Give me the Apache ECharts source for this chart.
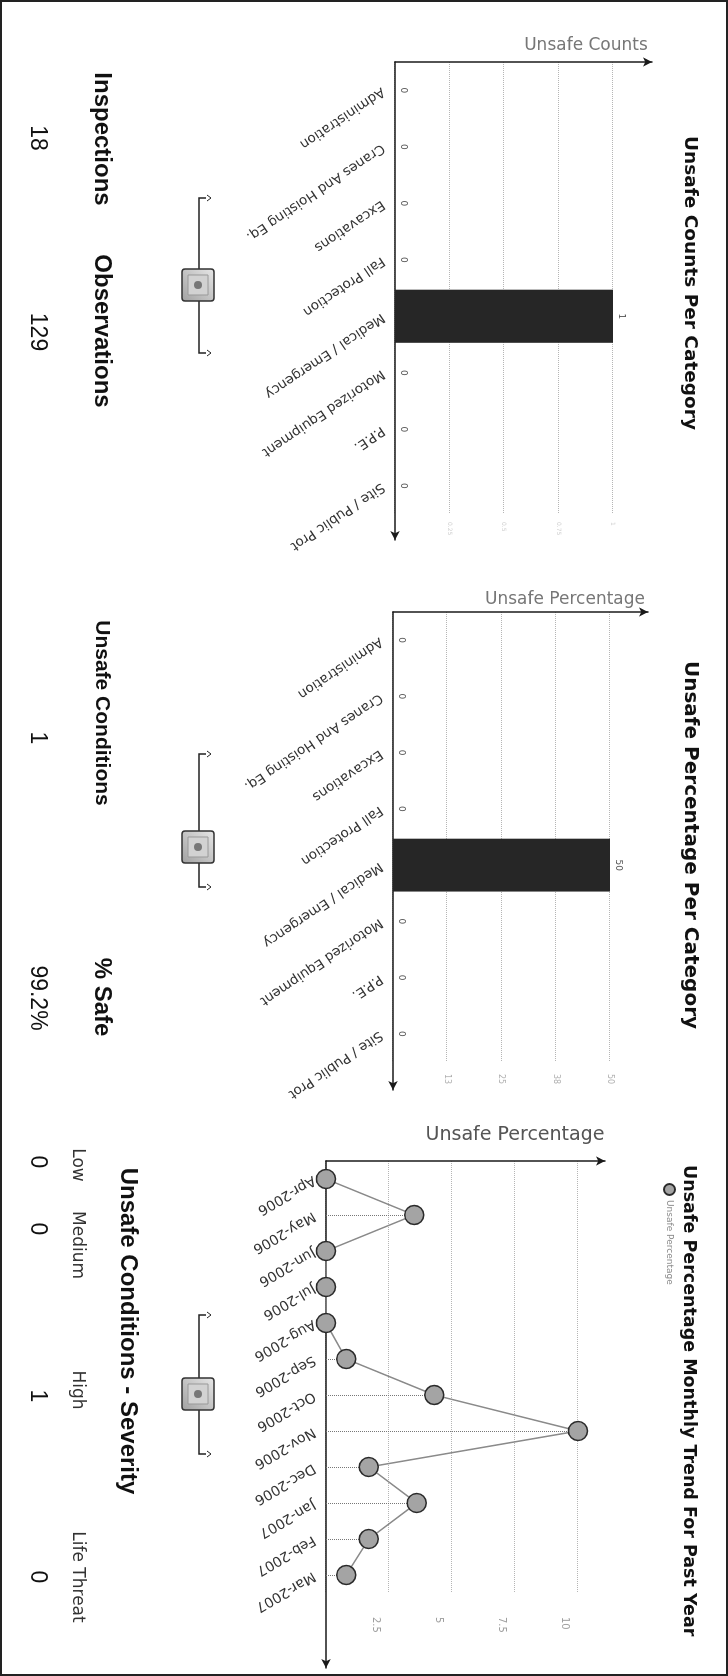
<!DOCTYPE html>
<html><head><meta charset="utf-8">
<script src="https://cdn.jsdelivr.net/npm/echarts@6/dist/echarts.min.js"></script>
<style>
html,body{margin:0;padding:0;width:728px;height:1676px;overflow:hidden;background:#fff;}
#wrap{position:absolute;left:0;top:0;width:1676px;height:728px;transform-origin:0 0;transform:translate(728px,0) rotate(90deg);}
#chart{width:1676px;height:728px;}
</style></head><body>
<div id="wrap"><div id="chart"></div></div>
<script>
// ---------- data ----------
const categories = ['Administration','Cranes And Hoisting Eq.','Excavations','Fall Protection','Medical / Emergency','Motorized Equipment','P.P.E.','Site / Public Prot'];
const unsafeCounts = [0,0,0,0,1,0,0,0];
const unsafePercent = [0,0,0,0,50,0,0,0];
const months = ['Apr-2006','May-2006','Jun-2006','Jul-2006','Aug-2006','Sep-2006','Oct-2006','Nov-2006','Dec-2006','Jan-2007','Feb-2007','Mar-2007'];
const monthlyUnsafePercent = [0,3.5,0,0,0,0.8,4.3,10,1.7,3.6,1.7,0.8];
const titles = ['Unsafe Counts Per Category','Unsafe Percentage Per Category','Unsafe Percentage Monthly Trend For Past Year'];
const axisNames = ['Unsafe Counts','Unsafe Percentage','Unsafe Percentage'];
const legendName = 'Unsafe Percentage';
const kpiLabels = ['Inspections','Observations','Unsafe Conditions','% Safe'];
const kpiValues = ['18','129','1','99.2%'];
const severityTitle = 'Unsafe Conditions - Severity';
const severityLabels = ['Low','Medium','High','Life Threat'];
const severityValues = ['0','0','1','0'];

// ---------- layout (original landscape frame 1676 x 728, rotated by CSS) ----------
const FONT = 'DejaVu Sans';
const AR = 'Liberation Sans';
const chart = echarts.init(document.getElementById('chart'));

function extAxes(gi){
  const line = {show:true, onZero:false, symbol:['none','arrow'], symbolSize:[7,9], lineStyle:{color:'#1a1a1a', width:1.5}};
  return {
    x:{type:'value', gridIndex:gi, min:0, max:1, axisLine:line, axisTick:{show:false}, axisLabel:{show:false}, splitLine:{show:false}},
    y:{type:'value', gridIndex:gi, min:0, max:1, axisLine:line, axisTick:{show:false}, axisLabel:{show:false}, splitLine:{show:false}}
  };
}
const e1 = extAxes(1), e3 = extAxes(3), e5 = extAxes(5);
const catLabel = {interval:0, rotate:-56, fontFamily:FONT, fontSize:13.5, color:'#333', margin:12};
const split = {show:true, lineStyle:{type:'dotted', color:'#b5b5b5', width:1}};
const titleStyle = s => ({fontFamily:FONT, fontSize:s, fontWeight:'bold', color:'#111'});

const option = {
  animation:false,
  backgroundColor:'#fff',
  title:[
    {text:titles[0], left:278, top:24, textAlign:'center', textStyle:titleStyle(18.5)},
    {text:titles[1], left:840, top:23, textAlign:'center', textStyle:titleStyle(20)},
    {text:titles[2], left:1160, top:25, textAlign:'left', textStyle:titleStyle(17.5)}
  ],
  legend:{data:[legendName], left:1178, top:47, icon:'circle', itemWidth:11, itemHeight:11, itemGap:4,
    textStyle:{fontFamily:FONT, fontSize:9, color:'#888'}},
  grid:[
    {left:62, top:115, width:452, height:218},
    {left:62, top:76, width:478, height:257},
    {left:612, top:118, width:450, height:217},
    {left:612, top:80, width:478, height:255},
    {left:1161, top:150, width:432, height:252},
    {left:1161, top:123, width:507, height:279}
  ],
  xAxis:[
    {type:'category', gridIndex:0, data:categories, axisLine:{show:false}, axisTick:{show:false}, axisLabel:catLabel},
    e1.x,
    {type:'category', gridIndex:2, data:categories, axisLine:{show:false}, axisTick:{show:false}, axisLabel:catLabel},
    e3.x,
    {type:'category', gridIndex:4, data:months, axisLine:{show:false}, axisTick:{show:false},
      axisLabel:{interval:0, rotate:-60, fontFamily:FONT, fontSize:14, color:'#333', margin:12}},
    e5.x
  ],
  yAxis:[
    {type:'value', gridIndex:0, min:0, max:1, interval:0.25, axisLine:{show:false}, axisTick:{show:false}, axisLabel:{show:false}, splitLine:split},
    {type:'value', gridIndex:0, position:'right', min:0, max:1, interval:0.25, axisLine:{show:false}, axisTick:{show:false}, splitLine:{show:false},
      axisLabel:{showMinLabel:false, fontFamily:FONT, fontSize:6, color:'#d0d0d0', margin:8}},
    e1.y,
    {type:'value', gridIndex:2, min:0, max:50, interval:12.5, axisLine:{show:false}, axisTick:{show:false}, axisLabel:{show:false}, splitLine:split},
    {type:'value', gridIndex:2, position:'right', min:0, max:50, interval:12.5, axisLine:{show:false}, axisTick:{show:false}, splitLine:{show:false},
      axisLabel:{showMinLabel:false, fontFamily:FONT, fontSize:8, color:'#b0b0b0', margin:12, formatter:v=>String(Math.round(v))}},
    e3.y,
    {type:'value', gridIndex:4, min:0, max:10, interval:2.5, axisLine:{show:false}, axisTick:{show:false}, axisLabel:{show:false}, splitLine:split},
    {type:'value', gridIndex:4, position:'right', min:0, max:10, interval:2.5, axisLine:{show:false}, axisTick:{show:false}, splitLine:{show:false},
      axisLabel:{showMinLabel:false, fontFamily:FONT, fontSize:10, color:'#a0a0a0', margin:24, verticalAlign:'top', padding:[8,0,0,0]}},
    e5.y
  ],
  series:[
    {type:'bar', name:'Unsafe Counts', xAxisIndex:0, yAxisIndex:0, data:unsafeCounts, barWidth:'94%',
      itemStyle:{color:'#262626'}, label:{show:true, position:'top', distance:4, fontFamily:FONT, fontSize:9, color:'#555'}},
    {type:'bar', name:'Unsafe Percentage Cat', xAxisIndex:2, yAxisIndex:3, data:unsafePercent, barWidth:'94%',
      itemStyle:{color:'#262626'}, label:{show:true, position:'top', distance:4, fontFamily:FONT, fontSize:9, color:'#555'}},
    {type:'line', name:legendName, xAxisIndex:4, yAxisIndex:6, data:monthlyUnsafePercent, z:5,
      symbol:'circle', symbolSize:19,
      itemStyle:{color:'#a4a4a4', borderColor:'#2a2a2a', borderWidth:1.5},
      lineStyle:{color:'#8a8a8a', width:1.5},
      markLine:{silent:true, symbol:['none','none'], label:{show:false}, z:1,
        lineStyle:{type:'dotted', color:'#777', width:1},
        data: months.map((m,i)=>[{coord:[m,0]},{coord:[m,monthlyUnsafePercent[i]]}])}
    }
  ],
  graphic:[]
};

const G = option.graphic;
// axis names (rotated text beside the value axes)
[[46,142,17,'#777'],[600,163,17,'#777'],[1135,213,19,'#555']].forEach((p,i)=>{
  G.push({type:'text', x:p[0], y:p[1], rotation:Math.PI/2,
    style:{text:axisNames[i], align:'center', verticalAlign:'middle', font:p[2]+'px "'+FONT+'"', fill:p[3]}});
});

// KPI labels and values
const kpiLabelX = [139, 331, 713, 997];
const kpiLabelSize = [24, 24, 21, 24];
const kpiValueX = [138, 332, 738, 998];
kpiLabels.forEach((t,i)=>{
  G.push({type:'text', x:kpiLabelX[i], y:626, style:{text:t, align:'center', verticalAlign:'middle', font:'bold '+kpiLabelSize[i]+'px "'+AR+'"', fill:'#111'}});
  G.push({type:'text', x:kpiValueX[i], y:691, style:{text:kpiValues[i], align:'center', verticalAlign:'middle', font:'23px "'+AR+'"', fill:'#111'}});
});
G.push({type:'text', x:1331, y:600, style:{text:severityTitle, align:'center', verticalAlign:'middle', font:'bold 24px "'+AR+'"', fill:'#111'}});
const sevLabelX = [1165, 1245, 1390, 1577];
const sevValueX = [1162, 1229, 1396, 1577];
severityLabels.forEach((t,i)=>{
  G.push({type:'text', x:sevLabelX[i], y:651, style:{text:t, align:'center', verticalAlign:'middle', font:'17px "'+FONT+'"', fill:'#333'}});
  G.push({type:'text', x:sevValueX[i], y:691, style:{text:severityValues[i], align:'center', verticalAlign:'middle', font:'23px "'+AR+'"', fill:'#111'}});
});

// connectors with box icons
[[198,353,285],[754,887,847],[1315,1454,1394]].forEach(c=>{
  const y = 529, a = c[0], b = c[1], m = c[2];
  G.push({type:'polyline', shape:{points:[[a,y-7],[a,y],[b,y],[b,y-7]]}, style:{stroke:'#222', lineWidth:1.5, fill:null}});
  [a, b].forEach(x=>{
    G.push({type:'polyline', shape:{points:[[x-3,y-8],[x,y-12],[x+3,y-8]]}, style:{stroke:'#222', lineWidth:1, fill:null}});
  });
  G.push({type:'rect', shape:{x:m-16, y:y-15, width:32, height:32, r:3},
    style:{fill:{type:'linear',x:0,y:0,x2:1,y2:1,colorStops:[{offset:0,color:'#e8e8e8'},{offset:1,color:'#a0a0a0'}]}, stroke:'#333', lineWidth:1.5}});
  G.push({type:'rect', shape:{x:m-10, y:y-9, width:20, height:20}, style:{fill:'#d2d2d2', stroke:'#999', lineWidth:1}});
  G.push({type:'circle', shape:{cx:m, cy:y+1, r:4}, style:{fill:'#777'}});
});

// outer frame
G.push({type:'rect', shape:{x:1, y:1, width:1674, height:726}, style:{fill:null, stroke:'#222', lineWidth:2}, z:10});

chart.setOption(option);
</script>
</body></html>
